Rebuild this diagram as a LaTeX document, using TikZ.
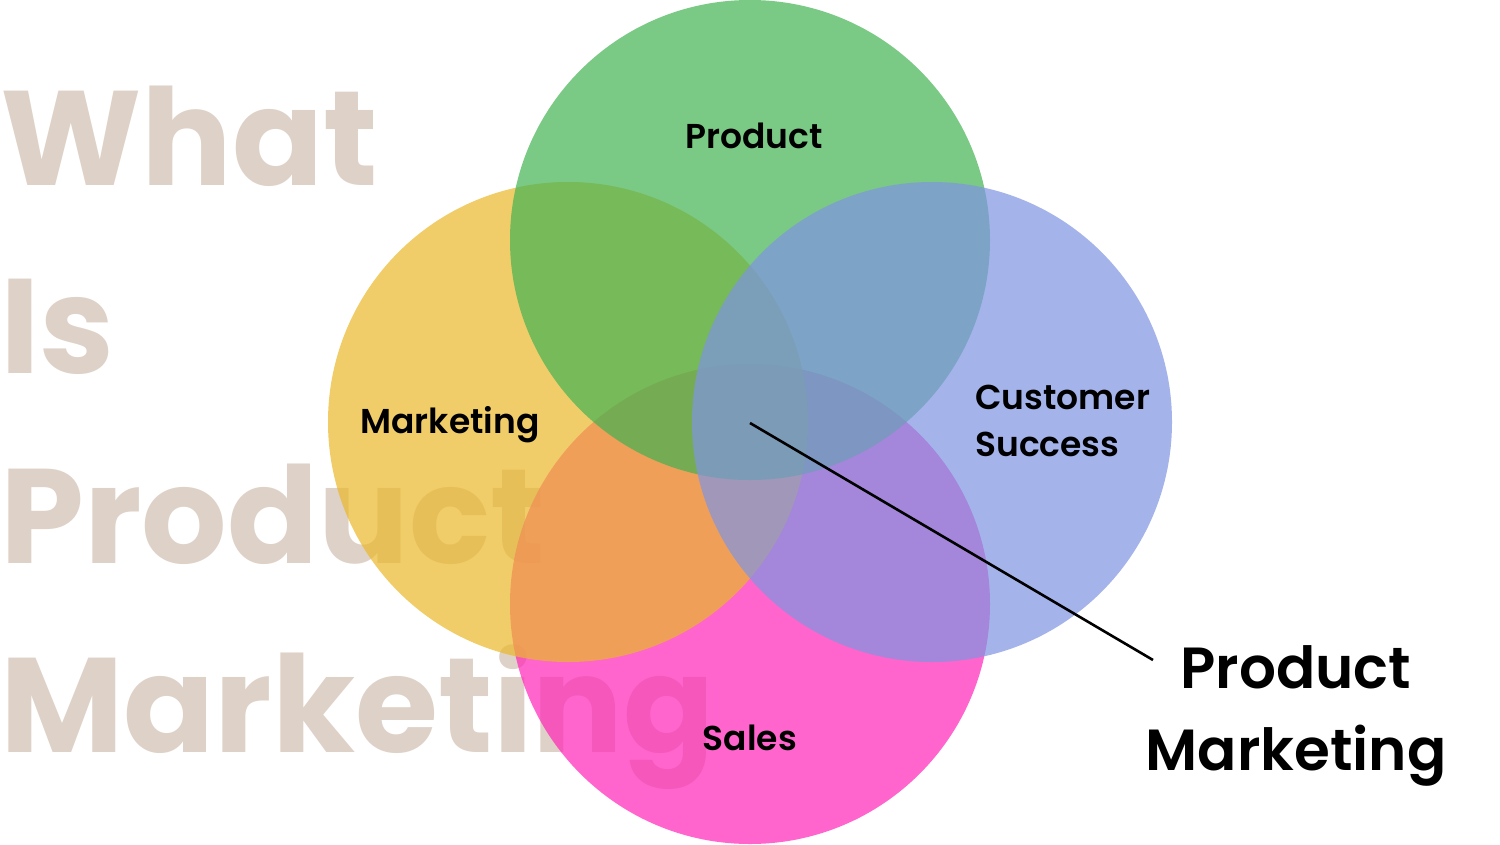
\documentclass[tikz,border=0pt]{standalone}
\usepackage{fontspec}
\setmainfont{Poppins}
\newfontfamily\labelfont{Poppins SemiBold}
\definecolor{titlebeige}{HTML}{DED1C7}
\definecolor{productgreen}{RGB}{66,178,81}
\definecolor{marketingyellow}{RGB}{234,184,42}
\definecolor{successblue}{RGB}{126,148,226}
\definecolor{salespink}{RGB}{255,36,182}
\tikzset{
  ring/.style={circle, minimum size=480pt, inner sep=0pt, draw=none, fill opacity=0.7},
  title/.style={anchor=base west, inner sep=0pt, text=titlebeige, font=\fontsize{134.5}{134.5}\selectfont\bfseries},
  tag/.style={inner sep=0pt, font=\labelfont\fontsize{34.5}{47}\selectfont},
}
\begin{document}
\begin{tikzpicture}[x=1pt, y=-1pt]
  \useasboundingbox (0,0) rectangle (1500,844);
  \node[title] (what) at (0,185) {What};
  \node[title] (is) at (0,373) {Is};
  \node[title] (prod) at (0,563) {Product};
  \node[title] (mark) at (0,752) {Marketing};
  \node[ring, fill=salespink] (sales) at (750,604) {};
  \node[ring, fill=marketingyellow] (marketing) at (568,422) {};
  \node[ring, fill=productgreen] (product) at (750,240) {};
  \node[ring, fill=successblue] (success) at (932,422) {};
  \node[tag, anchor=base] (productlabel) at (754,148) {Product};
  \node[tag, anchor=base] (marketinglabel) at (450,433) {Marketing};
  \node[tag, anchor=west, align=left] (successlabel) at (975,421) {Customer\\Success};
  \node[tag, anchor=base] (saleslabel) at (750,750) {Sales};
  \node[inner sep=0pt, align=center, font=\labelfont\fontsize{58}{82}\selectfont] (pmlabel) at (1296,716) {Product\\Marketing};
  \coordinate (hub) at (750,423);
  \coordinate (tip) at (1153,660);
  \draw[line width=2.6pt] (hub) -- (tip);
\end{tikzpicture}
\end{document}
